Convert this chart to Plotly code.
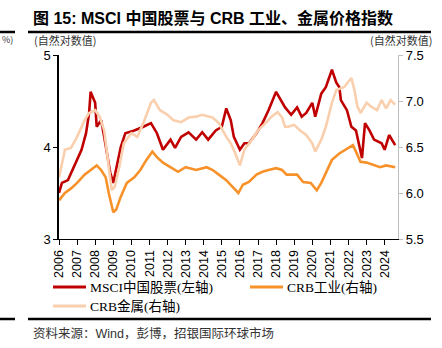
import plotly.graph_objects as go

# ---------------- data ----------------
msci_dates = ["2006-01","2006-03","2006-07","2006-11","2007-04","2007-07","2007-09","2007-10",
              "2008-01","2008-02","2008-05","2008-07","2008-09","2008-11","2009-01","2009-03",
              "2009-06","2009-09","2010-03","2010-09","2011-02","2011-06","2011-10","2012-03",
              "2012-06","2012-10","2013-03","2013-08","2013-12","2014-04","2014-09","2015-01",
              "2015-04","2015-07","2015-09","2016-01","2016-04","2016-07","2016-12","2017-04",
              "2017-08","2018-01","2018-04","2018-07","2018-11","2019-03","2019-06","2019-09",
              "2020-01","2020-03","2020-07","2020-10","2021-02","2021-05","2021-07","2021-08",
              "2021-12","2022-03","2022-06","2022-10","2022-12","2023-03","2023-06","2023-11",
              "2024-01","2024-04","2024-08"]
msci_vals = [3.50,3.61,3.64,3.78,3.97,4.15,4.37,4.60,
             4.48,4.22,4.29,4.11,3.93,3.72,3.61,3.75,
             4.00,4.15,4.18,4.22,4.26,4.15,3.97,4.08,
             3.99,4.11,4.16,4.08,4.16,4.08,4.18,4.22,
             4.42,4.29,4.11,3.97,4.04,4.04,4.15,4.26,
             4.40,4.60,4.51,4.43,4.35,4.43,4.33,4.37,
             4.48,4.33,4.58,4.65,4.84,4.70,4.65,4.51,
             4.40,4.22,4.18,3.88,4.26,4.18,4.08,4.04,
             3.97,4.13,4.02]

ind_dates = ["2006-01","2006-05","2006-09","2007-01","2007-06","2007-10","2008-02","2008-05",
             "2008-08","2008-10","2009-01","2009-03","2009-06","2009-10","2010-03","2010-07",
             "2010-11","2011-03","2011-06","2011-10","2012-02","2012-08","2013-01","2013-08",
             "2014-03","2014-07","2014-11","2015-04","2015-08","2015-12","2016-03","2016-07",
             "2016-12","2017-04","2017-08","2018-01","2018-05","2018-08","2019-03","2019-07",
             "2019-12","2020-04","2020-07","2020-10","2021-02","2021-07","2021-11","2022-04",
             "2022-06","2022-09","2023-01","2023-06","2023-10","2024-02","2024-08"]
ind_vals = [5.92,6.00,6.05,6.11,6.20,6.25,6.30,6.25,
            6.17,6.00,5.79,5.82,5.96,6.11,6.17,6.25,
            6.36,6.45,6.39,6.33,6.29,6.23,6.28,6.25,
            6.28,6.25,6.20,6.14,6.07,6.00,6.09,6.12,
            6.20,6.23,6.25,6.27,6.25,6.20,6.20,6.12,
            6.11,6.03,6.11,6.22,6.36,6.43,6.47,6.52,
            6.45,6.34,6.33,6.30,6.28,6.30,6.28]

met_dates = ["2006-01","2006-05","2006-09","2007-01","2007-06","2007-09","2008-01","2008-04",
             "2008-07","2008-09","2008-12","2009-02","2009-05","2009-08","2010-01","2010-05",
             "2010-09","2011-02","2011-04","2011-08","2012-01","2012-05","2012-10","2013-03",
             "2013-08","2013-12","2014-07","2014-11","2015-04","2015-07","2015-10","2016-01",
             "2016-04","2016-09","2017-01","2017-06","2017-10","2018-02","2018-05","2018-07",
             "2018-09","2019-01","2019-05","2019-09","2020-01","2020-03","2020-07","2020-10",
             "2021-02","2021-05","2021-10","2022-03","2022-05","2022-07","2022-09","2023-01",
             "2023-04","2023-08","2023-11","2024-02","2024-05","2024-08"]
met_vals = [6.17,6.47,6.49,6.61,6.79,6.87,6.90,6.83,
            6.68,6.43,6.03,6.07,6.28,6.54,6.65,6.61,
            6.76,6.98,7.01,6.90,6.85,6.79,6.77,6.82,
            6.83,6.85,6.82,6.76,6.61,6.54,6.43,6.30,
            6.47,6.58,6.68,6.76,6.83,6.88,6.82,6.72,
            6.72,6.74,6.68,6.63,6.54,6.45,6.58,6.72,
            6.98,7.12,7.15,7.25,7.12,6.94,6.87,6.98,
            6.94,6.90,7.01,6.92,7.01,6.96]

years = list(range(2006, 2025))
names = ["MSCI中国股票(左轴)", "CRB工业(右轴)", "CRB金属(右轴)"]
title_text = "<b>图 15: MSCI 中国股票与 CRB 工业、金属价格指数</b>"

# ---------------- geometry helpers ----------------
W, H = 442, 348
L, R, T, B = 59, 398, 55, 239
def px(x):
    return (x - L) / (R - L)
def py(y):
    return (B - y) / (B - T)

RED = "#C00000"
ORANGE = "#F7922B"
PEACH = "#F9CFAE"
CJK = "Noto Sans CJK SC"
SERIF = "Liberation Serif, Noto Sans CJK SC"
colors = [RED, ORANGE, PEACH]

fig = go.Figure()
fig.add_trace(go.Scatter(x=met_dates, y=met_vals, name=names[2], yaxis="y2",
                         mode="lines", line=dict(color=PEACH, width=2.6)))
fig.add_trace(go.Scatter(x=ind_dates, y=ind_vals, name=names[1], yaxis="y2",
                         mode="lines", line=dict(color=ORANGE, width=2.6)))
fig.add_trace(go.Scatter(x=msci_dates, y=msci_vals, name=names[0], yaxis="y",
                         mode="lines", line=dict(color=RED, width=2.6)))

fig.update_layout(
    width=W, height=H,
    margin=dict(l=L, r=W - R, t=T, b=H - B),
    paper_bgcolor="white", plot_bgcolor="white",
    font=dict(family="Liberation Sans, " + CJK, color="black", size=13),
    showlegend=False,
    xaxis=dict(
        type="date",
        range=["2006-01-01", "2024-09-27"],
        tickvals=[f"{y}-01-01" for y in years],
        ticktext=[str(y) for y in years],
        tickangle=-90,
        tickfont=dict(size=12.5, family="Liberation Sans"),
        ticks="outside", ticklen=5, tickcolor="black",
        showline=True, linecolor="black", linewidth=1.2,
        showgrid=False, zeroline=False, automargin=False,
    ),
    yaxis=dict(
        range=[3, 5], dtick=1,
        tickfont=dict(size=13, family="Liberation Sans"),
        ticks="outside", ticklen=4, tickcolor="black",
        showline=True, linecolor="black", linewidth=1.5,
        showgrid=False, zeroline=False, automargin=False,
    ),
    yaxis2=dict(
        range=[5.5, 7.5], dtick=0.5, tickformat=".1f",
        overlaying="y", side="right",
        tickfont=dict(size=13, family="Liberation Sans"),
        ticks="outside", ticklen=4, tickcolor="#bfbfbf",
        showline=True, linecolor="#bfbfbf", linewidth=1.2,
        showgrid=False, zeroline=False, automargin=False,
    ),
)

# manual legend (two columns, as in the reference)
legend_pos = [(53, 287), (250, 287), (53, 306)]
for name, col, (lx, ly) in zip(names, colors, legend_pos):
    fig.add_shape(type="line", xref="paper", yref="paper",
                  x0=px(lx), x1=px(lx + 33), y0=py(ly), y1=py(ly),
                  line=dict(color=col, width=3))
    fig.add_annotation(text=name, x=px(lx + 35), y=py(ly), xref="paper", yref="paper",
                       xanchor="left", yanchor="middle", showarrow=False,
                       font=dict(size=13.5, family=SERIF, color="black"))

# title, axis captions, source
fig.add_annotation(text=title_text, x=px(31), y=py(18), xref="paper", yref="paper",
                   xanchor="left", yanchor="middle", showarrow=False,
                   font=dict(size=16, family="Liberation Sans, " + CJK, color="black"))
fig.add_annotation(text="(自然对数值)", x=px(32), y=py(40), xref="paper", yref="paper",
                   xanchor="left", yanchor="middle", showarrow=False,
                   font=dict(size=11, family=CJK, color="#333333"))
fig.add_annotation(text="(自然对数值)", x=px(434), y=py(40), xref="paper", yref="paper",
                   xanchor="right", yanchor="middle", showarrow=False,
                   font=dict(size=11, family=CJK, color="#333333"))
fig.add_annotation(text="%)", x=px(0), y=py(40), xref="paper", yref="paper",
                   xanchor="left", yanchor="middle", showarrow=False,
                   font=dict(size=9, family=CJK, color="#333333"))
fig.add_annotation(text="资料来源：<span style='font-family:Liberation Sans'>Wind</span>，彭博，招银国际环球市场",
                   x=px(31), y=py(332), xref="paper", yref="paper",
                   xanchor="left", yanchor="middle", showarrow=False,
                   font=dict(size=12.5, family=CJK, color="#333333"))

# rules
for x0, x1, y in [(28, 431, 32), (0, 15, 32), (28, 431, 319), (0, 15, 319)]:
    fig.add_shape(type="line", xref="paper", yref="paper",
                  x0=px(x0), x1=px(x1), y0=py(y), y1=py(y),
                  line=dict(color="black", width=2.5))

fig.write_html("out.html")
